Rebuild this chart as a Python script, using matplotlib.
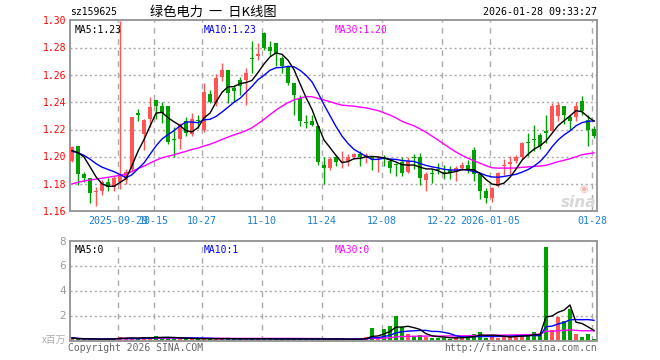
import matplotlib
matplotlib.use('Agg')
import matplotlib.pyplot as plt
import numpy as np
import pandas as pd

# ---------------- data ----------------
holidays = ['2025-10-01', '2025-10-02', '2025-10-03', '2025-10-06', '2025-10-07',
            '2025-10-08', '2026-01-01', '2026-01-02']
dates = [d for d in pd.bdate_range('2025-09-17', '2026-01-28').strftime('%Y-%m-%d')
         if d not in holidays]

opens = [1.197, 1.208, 1.187, 1.184, 1.174, 1.175, 1.181, 1.1775, 1.181, 1.183,
         1.191, 1.232, 1.217, 1.228, 1.242, 1.2375, 1.2375, 1.2125, 1.213, 1.226,
         1.217, 1.227, 1.220, 1.2465, 1.2395, 1.2585, 1.264, 1.2505, 1.2565, 1.2565,
         1.2725, 1.274, 1.291, 1.281, 1.2835, 1.273, 1.2665, 1.2545, 1.243, 1.2255,
         1.2265, 1.2228, 1.194, 1.1917, 1.1995, 1.196, 1.1966, 1.1998, 1.202, 1.200,
         1.200, 1.1975, 1.199, 1.1966, 1.194, 1.196, 1.189, 1.199, 1.200, 1.183,
         1.1878, 1.191, 1.188, 1.1905, 1.1885, 1.1917, 1.1936, 1.205, 1.187, 1.1745,
         1.1696, 1.1787, 1.193, 1.1945, 1.1966, 1.1998, 1.2102, 1.213, 1.2162, 1.218,
         1.2186, 1.2297, 1.2375, 1.229, 1.2292, 1.2407, 1.2272, 1.2203]
highs = [1.208, 1.208, 1.189, 1.184, 1.178, 1.183, 1.184, 1.186, 1.300, 1.191,
         1.229, 1.235, 1.2275, 1.244, 1.242, 1.240, 1.2375, 1.222, 1.225, 1.229,
         1.232, 1.231, 1.254, 1.249, 1.261, 1.269, 1.264, 1.253, 1.2585, 1.265,
         1.285, 1.2835, 1.2915, 1.285, 1.284, 1.274, 1.267, 1.2545, 1.2455, 1.231,
         1.231, 1.2228, 1.200, 1.200, 1.201, 1.2045, 1.202, 1.2027, 1.204, 1.203,
         1.2007, 1.2007, 1.2015, 1.199, 1.1955, 1.200, 1.200, 1.202, 1.2027, 1.189,
         1.191, 1.1955, 1.194, 1.1935, 1.193, 1.196, 1.1973, 1.207, 1.1875, 1.177,
         1.178, 1.189, 1.198, 1.2007, 1.2015, 1.211, 1.2175, 1.223, 1.2174, 1.231,
         1.2395, 1.2405, 1.2375, 1.231, 1.2405, 1.245, 1.231, 1.2225]
lows = [1.196, 1.179, 1.181, 1.166, 1.164, 1.172, 1.175, 1.1745, 1.176, 1.180,
        1.189, 1.226, 1.205, 1.222, 1.228, 1.225, 1.209, 1.200, 1.206, 1.215,
        1.2155, 1.221, 1.218, 1.2395, 1.237, 1.256, 1.2395, 1.2405, 1.2455, 1.238,
        1.262, 1.271, 1.2785, 1.274, 1.2665, 1.2615, 1.253, 1.231, 1.2225, 1.221,
        1.2225, 1.1936, 1.180, 1.190, 1.193, 1.1915, 1.1935, 1.198, 1.193, 1.1955,
        1.190, 1.1885, 1.193, 1.188, 1.1855, 1.1855, 1.188, 1.191, 1.179, 1.1745,
        1.1805, 1.187, 1.1835, 1.1835, 1.182, 1.190, 1.188, 1.182, 1.1685, 1.166,
        1.1665, 1.178, 1.1868, 1.187, 1.1955, 1.198, 1.2007, 1.204, 1.206, 1.210,
        1.218, 1.226, 1.2243, 1.2198, 1.2265, 1.2305, 1.2077, 1.2135]
closes = [1.207, 1.187, 1.184, 1.173, 1.175, 1.181, 1.178, 1.184, 1.187, 1.189,
          1.229, 1.231, 1.227, 1.2365, 1.237, 1.232, 1.211, 1.212, 1.223, 1.2175,
          1.228, 1.2265, 1.248, 1.2405, 1.258, 1.264, 1.247, 1.2485, 1.252, 1.2615,
          1.272, 1.276, 1.280, 1.278, 1.276, 1.267, 1.2545, 1.2455, 1.226, 1.225,
          1.223, 1.196, 1.1915, 1.198, 1.196, 1.1965, 1.200, 1.202, 1.1995, 1.2015,
          1.198, 1.198, 1.1988, 1.192, 1.1938, 1.188, 1.1966, 1.1988, 1.1843, 1.1875,
          1.1875, 1.1905, 1.1878, 1.188, 1.1917, 1.194, 1.191, 1.187, 1.1745, 1.1696,
          1.177, 1.188, 1.1936, 1.196, 1.1995, 1.210, 1.2098, 1.2125, 1.208, 1.2178,
          1.2375, 1.2382, 1.231, 1.226, 1.237, 1.2333, 1.2194, 1.2155]
# closes of the 29 sessions before the window (estimated from the MA lines)
prior_closes = [1.152, 1.155, 1.150, 1.158, 1.160, 1.157, 1.162, 1.165, 1.163, 1.168,
                1.170, 1.172, 1.169, 1.175, 1.178, 1.176, 1.180, 1.183, 1.181, 1.185,
                1.198, 1.203, 1.201, 1.208, 1.207, 1.195, 1.200, 1.209, 1.212]
# volume, millions
volumes = [0.25, 0.15, 0.15, 0.15, 0.12, 0.12, 0.25, 0.2, 0.35, 0.25,
           0.2, 0.2, 0.3, 0.3, 0.4, 0.25, 0.25, 0.2, 0.2, 0.2,
           0.18, 0.15, 0.2, 0.18, 0.2, 0.2, 0.18, 0.15, 0.15, 0.2,
           0.2, 0.15, 0.2, 0.15, 0.15, 0.15, 0.2, 0.15, 0.18, 0.15,
           0.15, 0.2, 0.15, 0.15, 0.15, 0.15, 0.12, 0.15, 0.2, 0.3,
           1.08, 0.3, 0.95, 1.22, 2.05, 1.1, 0.6, 0.4, 0.5, 0.35,
           0.25, 0.25, 0.25, 0.2, 0.3, 0.3, 0.4, 0.6, 0.75, 0.25,
           0.35, 0.25, 0.35, 0.4, 0.45, 0.5, 0.4, 0.75, 0.5, 7.55,
           0.85, 1.9, 1.6, 2.6, 0.6, 0.35, 0.55, 0.15]

tick_dates = ['2025-09-29', '2025-10-15', '2025-10-27', '2025-11-10', '2025-11-24',
              '2025-12-08', '2025-12-22', '2026-01-05', '2026-01-28']
tick_labels = ['2025-09-29', '10-15', '10-27', '11-10', '11-24', '12-08', '12-22',
               '2026-01-05', '01-28']
price_ticks = [1.16, 1.18, 1.20, 1.22, 1.24, 1.26, 1.28, 1.30]
vol_ticks = [2, 4, 6, 8]

# ---------------- derived ----------------
o = np.array(opens); h = np.array(highs); l = np.array(lows); c = np.array(closes)
v = np.array(volumes)
n = len(c)
x = np.arange(n)
full = pd.Series(list(prior_closes) + list(closes))
npre = len(prior_closes)
ma5 = full.rolling(5).mean().values[npre:]
ma10 = full.rolling(10).mean().values[npre:]
ma30 = full.rolling(30).mean().values[npre:]
vs = pd.Series(volumes)
vma5 = vs.rolling(5, min_periods=1).mean().values
vma10 = vs.rolling(10, min_periods=1).mean().values
vma30 = vs.rolling(30, min_periods=1).mean().values

RED = '#ff5555'
GREEN = '#00a000'
GRID = '#aaaaaa'
FRAME = '#999999'
MONO = 'DejaVu Sans Mono'
CJK = ['Noto Sans CJK SC', 'DejaVu Sans']
up = c >= o
cols = np.where(up, RED, GREEN)
tick_idx = [dates.index(d) for d in tick_dates]

W, H = 660, 360
fig = plt.figure(figsize=(6.6, 3.6), dpi=100)
fig.patch.set_facecolor('white')

def fx(px):
    return px / W

def fy(py):
    return 1 - py / H

ax = fig.add_axes([fx(70), fy(211), fx(597) - fx(70), fy(20) - fy(211)])
axv = fig.add_axes([fx(70), fy(341), fx(597) - fx(70), fy(241) - fy(341)])

xlim = (-1 / 3, n - 0.5)
for a in (ax, axv):
    a.set_xlim(*xlim)
    a.set_facecolor('white')
    for s in a.spines.values():
        s.set_color(FRAME)
        s.set_linewidth(1.4)
    a.tick_params(length=0)
    a.set_xticks([])
    a.set_yticks([])
    for ti in tick_idx:
        a.axvline(ti - 1 / 3, color=GRID, lw=1.0, ls=(0, (4, 4)), zorder=0)

# price panel
ax.set_ylim(1.16, 1.3007)
for p in price_ticks[1:-1]:
    ax.axhline(p, color=GRID, lw=1.0, ls=(0, (1.5, 2)), zorder=0)
ax.vlines(x, np.minimum(l, 1.3007), np.minimum(h, 1.3007), colors=cols, lw=1.0, zorder=2)
body_bot = np.minimum(o, c)
body_h = np.maximum(np.abs(c - o), 0.0008)
ax.bar(x, body_h, bottom=body_bot, width=0.78, color=cols, lw=0, zorder=3)
ax.plot(x, ma30, color='#ff00ff', lw=1.0, zorder=4)
ax.plot(x, ma10, color='#0000ff', lw=1.0, zorder=4)
ax.plot(x, ma5, color='black', lw=1.0, zorder=5)

ax.text(0.008, 0.975, 'MA5:%.2f' % ma5[-1], transform=ax.transAxes, ha='left', va='top',
        fontsize=7, family=MONO, color='black')
ax.text(fx(204 - 70) / fx(527), 0.975, 'MA10:%.2f' % ma10[-1], transform=ax.transAxes,
        ha='left', va='top', fontsize=7, family=MONO, color='#0000ff')
ax.text(fx(335 - 70) / fx(527), 0.975, 'MA30:%.2f' % ma30[-1], transform=ax.transAxes,
        ha='left', va='top', fontsize=7, family=MONO, color='#ff00ff')
# sina watermark
ax.text(0.998, 0.005, 'sina', transform=ax.transAxes, ha='right', va='bottom',
        fontsize=11, fontweight='bold', style='italic', color='#d8d8d8', zorder=1)
ax.text(0.975, 0.115, '◉', transform=ax.transAxes, ha='center', va='center',
        fontsize=7, color='#f5b5b5', family='DejaVu Sans', zorder=1)

for p in price_ticks:
    fig.text(fx(66), fy(212 - (p - 1.16) / 0.14 * 191), '%.2f' % p, ha='right', va='center',
             fontsize=7, family=MONO, color='red')
for ti, lab in zip(tick_idx, tick_labels):
    fig.text(fx(72 + 6 * ti - 2), fy(221), lab, ha='center', va='center', fontsize=7.2,
             family=MONO, color='#1a80d0')

# volume panel
axv.set_ylim(0, 8.05)
for t in vol_ticks[:-1]:
    axv.axhline(t, color=GRID, lw=1.0, ls=(0, (1.5, 2)), zorder=0)
axv.bar(x, v, width=0.78, color=cols, lw=0, zorder=2)
axv.plot(x, vma30, color='#ff00ff', lw=1.0, zorder=3)
axv.plot(x, vma10, color='#0000ff', lw=1.0, zorder=3)
axv.plot(x, vma5, color='black', lw=1.0, zorder=4)
axv.text(0.008, 0.96, 'MA5:%d' % int(vma5[-1]), transform=axv.transAxes, ha='left', va='top',
         fontsize=7, family=MONO, color='black')
axv.text(fx(204 - 70) / fx(527), 0.96, 'MA10:%d' % int(vma10[-1]), transform=axv.transAxes,
         ha='left', va='top', fontsize=7, family=MONO, color='#0000ff')
axv.text(fx(335 - 70) / fx(527), 0.96, 'MA30:%d' % int(vma30[-1]), transform=axv.transAxes,
         ha='left', va='top', fontsize=7, family=MONO, color='#ff00ff')
for t in vol_ticks:
    fig.text(fx(66), fy(341 - t / 8.05 * 100), '%d' % t, ha='right', va='center',
             fontsize=7.5, family='DejaVu Sans', color='#999999')
fig.text(fx(66), fy(340), 'x百万', ha='right', va='center', fontsize=7,
         family=CJK, color='#aaaaaa')

# header / footer
fig.text(fx(70), fy(12), 'sz159625', ha='left', va='center', fontsize=7, family=MONO,
         color='black')
fig.text(fx(150), fy(12), '绿色电力  一  日K线图', ha='left', va='center', fontsize=9.5,
         family=CJK, color='black')
fig.text(fx(597), fy(12), '2026-01-28 09:33:27', ha='right', va='center', fontsize=7.2,
         family=MONO, color='black')
fig.text(fx(68), fy(348), 'Copyright 2026 SINA.COM', ha='left', va='center', fontsize=7,
         family=MONO, color='#666666')
fig.text(fx(597), fy(348), 'http://finance.sina.com.cn', ha='right', va='center',
         fontsize=7, family=MONO, color='#666666')

fig.savefig('out.png', dpi=100, facecolor='white')
